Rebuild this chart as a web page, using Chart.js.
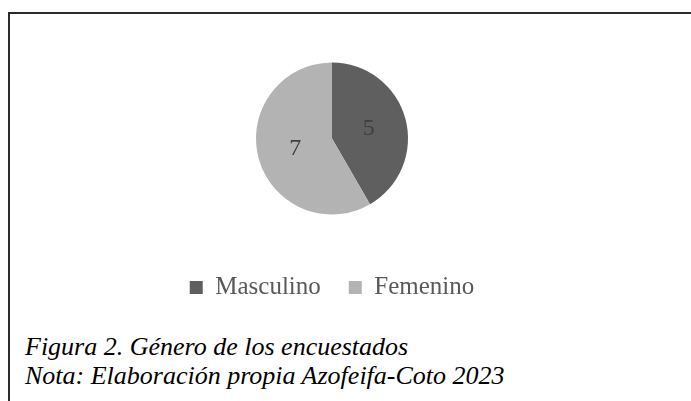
<!DOCTYPE html>
<html lang="es">
<head>
  <meta charset="UTF-8">
  <title>Género de los encuestados</title>
  <style>
    html, body {
      margin: 0;
      padding: 0;
      background: #ffffff;
      width: 691px;
      height: 401px;
      overflow: hidden;
    }
    .frame {
      position: absolute;
      left: 8px;
      top: 12px;
      width: 720px;
      height: 420px;
      border-top: 2px solid #2b2b2b;
      border-left: 2px solid #2b2b2b;
    }
    #chart {
      position: absolute;
      left: 0;
      top: 0;
    }
    .caption {
      position: absolute;
      left: 25px;
      top: 332px;
      font-family: "Liberation Serif", Tinos, "Times New Roman", "DejaVu Serif", serif;
      font-style: italic;
      font-size: 26px;
      line-height: 29px;
      color: #000;
      white-space: nowrap;
    }
  </style>
</head>
<body>
  <div class="frame"></div>
  <canvas id="chart" width="664" height="310"></canvas>
  <div class="caption">
    Figura 2. Género de los encuestados<br>
    Nota: Elaboración propia Azofeifa-Coto 2023
  </div>

  <script src="https://cdn.jsdelivr.net/npm/chart.js"></script>
  <script>
    const categories = ['Masculino', 'Femenino'];
    const counts = [5, 7];
    const sliceColors = ['#5f5f5f', '#b3b3b3'];

    const serifFont = '"Liberation Serif", Tinos, "Times New Roman", "DejaVu Serif", serif';

    // draw the value inside each slice
    const sliceValues = {
      id: 'sliceValues',
      afterDatasetsDraw(chart) {
        const ctx = chart.ctx;
        const meta = chart.getDatasetMeta(0);
        ctx.save();
        ctx.font = '24px ' + serifFont;
        ctx.fillStyle = '#404040';
        ctx.textAlign = 'center';
        ctx.textBaseline = 'middle';
        meta.data.forEach((arc, i) => {
          const p = arc.tooltipPosition();
          ctx.fillText(String(chart.data.datasets[0].data[i]), p.x, p.y);
        });
        ctx.restore();
      }
    };

    new Chart(document.getElementById('chart').getContext('2d'), {
      type: 'pie',
      data: {
        labels: categories,
        datasets: [{
          data: counts,
          backgroundColor: sliceColors,
          borderWidth: 0
        }]
      },
      options: {
        responsive: false,
        animation: false,
        radius: 76,
        layout: {
          padding: { top: 30, bottom: 0 }
        },
        plugins: {
          tooltip: { enabled: false },
          legend: {
            position: 'bottom',
            labels: {
              boxWidth: 13,
              boxHeight: 13,
              padding: 28,
              color: '#595959',
              font: { family: serifFont, size: 25 }
            }
          }
        }
      },
      plugins: [sliceValues]
    });
  </script>
</body>
</html>
